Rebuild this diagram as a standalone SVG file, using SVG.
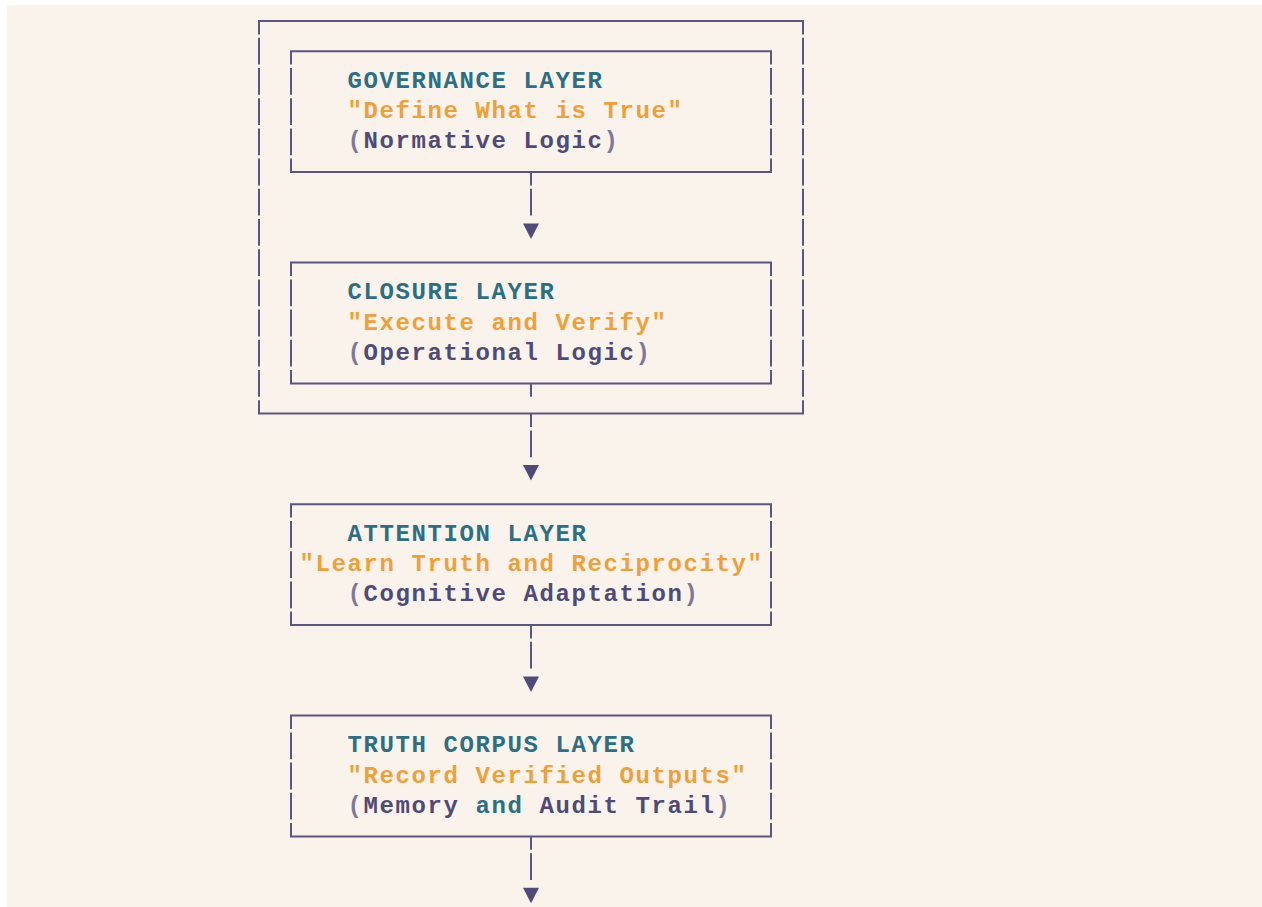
<svg xmlns="http://www.w3.org/2000/svg" width="1262" height="907" viewBox="0 0 1262 907">
<style>
.bg{fill:#fff}
.panel{fill:#faf3eb}
.h{stroke:#5a5680;stroke-width:2;fill:none}
.v{stroke:#5a5680;stroke-width:2;fill:none;stroke-dasharray:26.8 3.4;stroke-dashoffset:13.4}
.arrow{fill:#4f4a77}
text{font-family:"Liberation Mono","Courier New",monospace;font-weight:bold;font-size:24px;letter-spacing:1.6px}
.t{fill:#2c6e84}
.o{fill:#efa036}
.d{fill:#4f4a77}
.p{fill:#7d799b}
</style>
<rect class="bg" x="0" y="0" width="1262" height="907"/>
<rect class="panel" x="7" y="5" width="1255" height="902"/>

<g id="outer-frame">
<line class="h" x1="258" y1="21" x2="804" y2="21"/>
<line class="h" x1="258" y1="413.6" x2="804" y2="413.6"/>
<line class="v" x1="259" y1="21" x2="259" y2="413.6"/>
<line class="v" x1="803" y1="21" x2="803" y2="413.6"/>
</g>

<g id="governance-layer">
<line class="h" x1="290" y1="51.2" x2="772" y2="51.2"/>
<line class="h" x1="290" y1="172" x2="772" y2="172"/>
<line class="v" x1="291" y1="51.2" x2="291" y2="172"/>
<line class="v" x1="771" y1="51.2" x2="771" y2="172"/>
<text x="347.5" y="87.9" class="t">GOVERNANCE LAYER</text>
<text x="347.5" y="118.1" class="o">"Define What is True"</text>
<text x="347.5" y="148.3"><tspan class="p">(</tspan><tspan class="d">Normative Logic</tspan><tspan class="p">)</tspan></text>
</g>

<g id="closure-layer">
<line class="h" x1="290" y1="262.6" x2="772" y2="262.6"/>
<line class="h" x1="290" y1="383.4" x2="772" y2="383.4"/>
<line class="v" x1="291" y1="262.6" x2="291" y2="383.4"/>
<line class="v" x1="771" y1="262.6" x2="771" y2="383.4"/>
<text x="347.5" y="299.3" class="t">CLOSURE LAYER</text>
<text x="347.5" y="329.5" class="o">"Execute and Verify"</text>
<text x="347.5" y="359.7"><tspan class="p">(</tspan><tspan class="d">Operational Logic</tspan><tspan class="p">)</tspan></text>
</g>

<g id="attention-layer">
<line class="h" x1="290" y1="504.2" x2="772" y2="504.2"/>
<line class="h" x1="290" y1="625" x2="772" y2="625"/>
<line class="v" x1="291" y1="504.2" x2="291" y2="625"/>
<line class="v" x1="771" y1="504.2" x2="771" y2="625"/>
<text x="347.5" y="540.9" class="t">ATTENTION LAYER</text>
<text x="299.5" y="571.1" class="o">"Learn Truth and Reciprocity"</text>
<text x="347.5" y="601.3"><tspan class="p">(</tspan><tspan class="d">Cognitive Adaptation</tspan><tspan class="p">)</tspan></text>
</g>

<g id="truth-corpus-layer">
<line class="h" x1="290" y1="715.6" x2="772" y2="715.6"/>
<line class="h" x1="290" y1="836.4" x2="772" y2="836.4"/>
<line class="v" x1="291" y1="715.6" x2="291" y2="836.4"/>
<line class="v" x1="771" y1="715.6" x2="771" y2="836.4"/>
<text x="347.5" y="752.3" class="t">TRUTH CORPUS LAYER</text>
<text x="347.5" y="782.5" class="o">"Record Verified Outputs"</text>
<text x="347.5" y="812.7"><tspan class="p">(</tspan><tspan class="d">Memory </tspan><tspan class="t">and</tspan><tspan class="d"> Audit Trail</tspan><tspan class="p">)</tspan></text>
</g>

<g id="connectors">
<line class="v" x1="531" y1="172" x2="531" y2="215.6"/>
<polygon class="arrow" points="523,223.4 539,223.4 531,238.9"/>
<line class="v" x1="531" y1="383.4" x2="531" y2="396.8"/>
<line class="v" x1="531" y1="413.6" x2="531" y2="457.2"/>
<polygon class="arrow" points="523,465 539,465 531,480.5"/>
<line class="v" x1="531" y1="625" x2="531" y2="668.6"/>
<polygon class="arrow" points="523,676.4 539,676.4 531,691.9"/>
<line class="v" x1="531" y1="836.4" x2="531" y2="880"/>
<polygon class="arrow" points="523,887.8 539,887.8 531,903.3"/>
</g>
</svg>
